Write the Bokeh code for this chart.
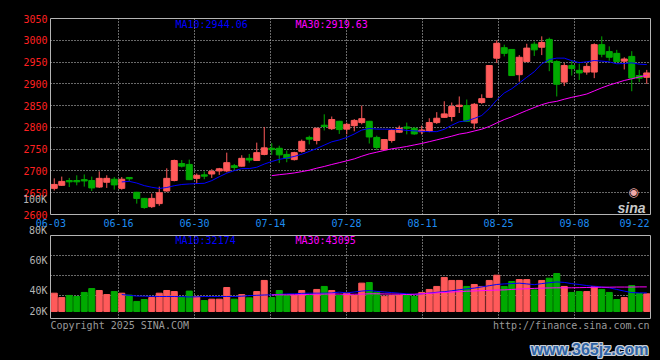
from bokeh.plotting import figure
from bokeh.layouts import column
from bokeh.models import ColumnDataSource, Range1d, FixedTicker, Label, Div
from bokeh.embed import file_html
from bokeh.resources import INLINE

# ---------------- data ----------------
opens = [2660, 2667, 2678, 2678, 2680, 2678, 2663, 2674, 2681, 2660,
         2685, 2651, 2637, 2618, 2625, 2654, 2678, 2717, 2715, 2683,
         2691, 2693, 2700, 2700, 2712, 2711, 2729, 2724, 2738, 2752,
         2752, 2738, 2726, 2745, 2777, 2770, 2805, 2797, 2814, 2796,
         2804, 2811, 2814, 2777, 2749, 2770, 2789, 2801, 2798, 2790,
         2791, 2811, 2823, 2825, 2848, 2850, 2810, 2857, 2869, 2959,
         2983, 2979, 2921, 2951, 2991, 2984, 3002, 2951, 2904, 2942,
         2931, 2927, 2927, 2990, 2974, 2970, 2952, 2963, 2919, 2915]
highs = [2683, 2687, 2684, 2690, 2692, 2687, 2699, 2690, 2686, 2686,
         2686, 2652, 2638, 2648, 2664, 2706, 2726, 2725, 2726, 2694,
         2699, 2704, 2707, 2742, 2716, 2736, 2739, 2765, 2801, 2764,
         2758, 2747, 2744, 2772, 2781, 2799, 2830, 2825, 2815, 2811,
         2819, 2850, 2815, 2781, 2773, 2796, 2804, 2811, 2801, 2804,
         2821, 2835, 2860, 2857, 2871, 2864, 2856, 2876, 2943, 3000,
         2990, 2980, 2966, 2992, 2997, 3009, 3006, 2954, 2948, 2954,
         2946, 2948, 2993, 3009, 2986, 2978, 2961, 2975, 2932, 2932]
lows = [2655, 2666, 2663, 2667, 2664, 2654, 2661, 2661, 2657, 2657,
        2677, 2625, 2613, 2615, 2620, 2652, 2676, 2708, 2679, 2670,
        2681, 2684, 2691, 2697, 2701, 2710, 2719, 2723, 2736, 2737,
        2718, 2720, 2724, 2742, 2761, 2761, 2793, 2794, 2785, 2784,
        2791, 2807, 2763, 2748, 2747, 2765, 2787, 2784, 2783, 2784,
        2789, 2808, 2822, 2814, 2833, 2813, 2796, 2854, 2868, 2948,
        2963, 2918, 2905, 2950, 2964, 2966, 2929, 2871, 2895, 2919,
        2909, 2921, 2913, 2961, 2953, 2950, 2933, 2883, 2904, 2900]
closes = [2669, 2676, 2675, 2675, 2677, 2661, 2683, 2683, 2668, 2681,
          2682, 2637, 2616, 2637, 2650, 2683, 2724, 2711, 2680, 2690,
          2688, 2699, 2705, 2719, 2708, 2729, 2725, 2742, 2753, 2749,
          2737, 2729, 2742, 2768, 2773, 2798, 2802, 2818, 2795, 2807,
          2816, 2820, 2778, 2754, 2772, 2793, 2798, 2798, 2785, 2794,
          2811, 2821, 2831, 2848, 2851, 2814, 2853, 2866, 2942, 2993,
          2970, 2919, 2961, 2982, 2978, 2995, 2950, 2899, 2942, 2935,
          2925, 2940, 2990, 2968, 2961, 2951, 2957, 2913, 2913, 2925]
# volume in thousands
volumes_k = [38.2, 35.3, 36.7, 36.0, 38.7, 41.3, 40.0, 37.3, 39.3, 38.2,
             36.9, 32.7, 34.0, 35.3, 38.2, 40.0, 39.3, 35.6, 39.6, 36.0,
             33.3, 34.2, 34.2, 42.0, 34.2, 37.3, 35.1, 39.3, 46.7, 35.3,
             40.0, 36.7, 36.7, 40.0, 36.7, 40.7, 42.7, 40.0, 36.7, 38.2,
             36.7, 44.9, 45.3, 38.9, 36.2, 36.7, 36.7, 37.3, 36.0, 38.7,
             40.7, 42.7, 48.7, 46.7, 46.7, 42.7, 44.0, 42.7, 46.7, 50.2,
             42.7, 46.0, 47.3, 47.3, 40.4, 46.7, 48.2, 51.3, 42.7, 38.7,
             39.3, 39.3, 42.7, 40.7, 38.7, 34.0, 35.3, 43.3, 38.0, 37.8]
# moving-average lines as drawn (MA10 from day 10, MA30 from day 30)
ma10 = [2674.8, 2676.1, 2672.2, 2666.3, 2662.5, 2659.8, 2662.0, 2666.1, 2668.9, 2670.1, 2671.0,
        2671.6, 2677.8, 2686.7, 2694.9, 2700.7, 2705.3, 2705.4, 2708.5, 2715.8, 2721.7,
        2726.6, 2729.6, 2733.3, 2738.3, 2744.8, 2751.6, 2759.3, 2766.9, 2771.1, 2776.9,
        2784.8, 2793.9, 2797.5, 2796.1, 2796.0, 2795.6, 2795.1, 2793.1, 2792.0, 2790.8,
        2790.3, 2790.3, 2795.6, 2805.0, 2812.9, 2815.0, 2820.5, 2827.4, 2843.1, 2863.0,
        2878.9, 2888.7, 2901.8, 2915.1, 2927.8, 2946.0, 2955.7, 2959.0, 2959.0, 2953.1,
        2948.6, 2950.6, 2953.5, 2952.2, 2950.4, 2946.0, 2946.7, 2948.1, 2945.2, 2944.2]
ma30 = [2689.2,
        2691.4, 2693.2, 2695.4, 2698.5, 2701.7, 2706.3, 2710.3, 2714.8, 2719.0, 2723.2,
        2727.7, 2733.8, 2739.2, 2743.1, 2747.1, 2750.8, 2753.3, 2756.2, 2759.7, 2763.1,
        2767.2, 2771.3, 2775.5, 2779.8, 2784.6, 2787.4, 2791.7, 2795.8, 2802.1, 2810.2,
        2818.0, 2824.3, 2831.6, 2838.8, 2845.6, 2852.2, 2857.1, 2859.8, 2864.7, 2869.0,
        2872.6, 2876.6, 2883.7, 2890.8, 2897.1, 2902.4, 2907.7, 2911.5, 2915.8, 2919.6]
vol_ma10_k = [37.3, 36.8, 36.3, 36.2, 36.1, 36.0, 36.0, 36.0, 35.9, 35.7, 35.8,
              36.0, 36.0, 36.0, 36.0, 36.0, 36.2, 36.6, 36.8, 37.0, 37.1,
              37.4, 37.7, 37.8, 38.1, 38.2, 38.2, 38.2, 38.4, 38.9, 38.4,
              39.0, 39.6, 40.0, 39.4, 39.0, 38.6, 38.2, 37.8, 37.4, 37.8,
              38.3, 38.8, 39.2, 39.8, 40.5, 41.1, 41.6, 42.4, 43.2, 44.0,
              44.4, 44.6, 44.9, 44.4, 43.9, 44.6, 45.2, 45.7, 45.4, 44.6,
              44.0, 43.3, 42.8, 42.3, 41.8, 40.7, 39.6, 38.6, 38.4, 38.4]
vol_ma30_k = [37.1,
              37.1, 37.1, 37.2, 37.3, 37.4, 37.5, 37.6, 37.7, 37.6, 37.4,
              37.5, 37.6, 37.8, 37.8, 37.7, 37.6, 37.5, 37.3, 37.5, 37.8,
              38.1, 38.4, 38.7, 39.0, 39.3, 39.5, 39.7, 39.9, 40.1, 40.3,
              40.4, 40.7, 41.0, 41.2, 41.4, 41.6, 41.7, 41.8, 41.8, 41.8,
              41.9, 42.0, 42.1, 42.2, 42.2, 42.3, 42.3, 42.3, 42.4, 42.4]
date_labels = ["06-03", "06-16", "06-30", "07-14", "07-28", "08-11", "08-25", "09-08", "09-22"]
price_ticks = [2600, 2650, 2700, 2750, 2800, 2850, 2900, 2950, 3000, 3050]
vol_tick_labels = {26: "20K", 40: "40K", 60: "60K"}
vol_upper_labels = ["100K", "80K"]
price_ma_text = ["MA10:2944.06", "MA30:2919.63"]
vol_ma_text = ["MA10:32174", "MA30:43095"]
copyright_text = "Copyright 2025 SINA.COM"
url_text = "http://finance.sina.com.cn"
watermark_text = "www.365jz.com"

# ---------------- styling ----------------
UP, DOWN = "#ff5a5a", "#00aa00"
GRID = "#d2d2d2"
BORDER = "#b4b4b4"
GREYTXT = "#b4b4b4"
MONO = "DejaVu Sans Mono"
grid_pos = [8.57, 18.7, 28.83, 38.97, 49.1, 59.23, 69.37]
date_pos = [-0.45] + grid_pos + [77.37]
vol_floor = 26

n = len(closes)
idx = list(range(n))
colors = [UP if c >= o else DOWN for o, c in zip(opens, closes)]
src = ColumnDataSource(dict(
    x=idx, o=opens, h=highs, l=lows, c=closes,
    top=[max(o, c) for o, c in zip(opens, closes)],
    bot=[min(o, c) for o, c in zip(opens, closes)],
    v=volumes_k, color=colors))

x_range = Range1d(-0.5, 79.5)


def style(p):
    p.background_fill_color = "black"
    p.border_fill_color = "black"
    p.outline_line_color = BORDER
    p.outline_line_width = 1
    for ax in p.axis:
        ax.axis_line_color = None
        ax.major_tick_line_color = None
        ax.minor_tick_line_color = None
        ax.major_tick_out = 0
        ax.major_tick_in = 0
        ax.minor_tick_out = 0
        ax.major_label_text_font = MONO
        ax.major_label_text_font_size = "10px"
    for g in (p.xgrid, p.ygrid):
        g.grid_line_color = GRID
        g.grid_line_dash = "1 2"
        g.grid_line_width = 1


def label(p, x, y, text, color, **kw):
    opts = dict(text_font=MONO, text_font_size="10px")
    opts.update(kw)
    p.add_layout(Label(x=x, y=y, x_units="screen", y_units="screen", text=text,
                       text_color=color, **opts))


# ---------------- price panel (page y 0..234, frame 18..214) ----------------
p1 = figure(width=660, height=234, x_range=x_range, y_range=Range1d(2600, 3050),
            output_backend="svg", toolbar_location=None,
            min_border_left=50, min_border_right=10, min_border_top=18, min_border_bottom=20)
style(p1)
p1.xaxis.ticker = FixedTicker(ticks=date_pos)
p1.xaxis.major_label_overrides = {pos: lab for pos, lab in zip(date_pos, date_labels)}
p1.xaxis.major_label_text_color = "#1e8cf0"
p1.xaxis.major_label_standoff = 4
p1.xgrid.ticker = FixedTicker(ticks=grid_pos)
p1.yaxis.ticker = FixedTicker(ticks=price_ticks)
p1.yaxis.major_label_text_color = "#ff2020"
p1.yaxis.major_label_standoff = 3
p1.ygrid.ticker = FixedTicker(ticks=price_ticks[1:-1])

p1.segment(x0="x", y0="l", x1="x", y1="h", line_color="color", line_width=1, source=src)
p1.vbar(x="x", width=0.8, top="top", bottom="bot", fill_color="color",
        line_color="color", line_width=1, source=src)
p1.line(x=idx[9:], y=ma10, line_color="#0000ff", line_width=1)
p1.line(x=idx[29:], y=ma30, line_color="#ff00ff", line_width=1)

label(p1, 125, 196, price_ma_text[0], "#0000ff", text_baseline="top")
label(p1, 245, 196, price_ma_text[1], "#ff00ff", text_baseline="top")
label(p1, 583, 23, "\u25c9", "#f0a8a8", text_font="DejaVu Sans", text_font_size="12px",
      text_align="center", text_baseline="middle")
label(p1, 567, 7, "sina", "#c8c8c8", text_font="Liberation Sans", text_font_size="14px",
      text_font_style="bold italic", text_baseline="alphabetic")

# stray volume-scale labels that sit left of the panels (overlay, zero height)
overlay = Div(
    text=('<span style="position:absolute;left:0px;width:47px;text-align:right;top:-40px;">%s</span>'
          '<span style="position:absolute;left:0px;width:47px;text-align:right;top:-9px;">%s</span>')
    % tuple(vol_upper_labels),
    width=660, height=0, margin=(0, 0, 0, 0),
    styles={"position": "relative", "overflow": "visible", "z-index": "10",
            "color": GREYTXT, "font-family": MONO, "font-size": "10px",
            "line-height": "12px", "white-space": "nowrap", "margin": "0px",
            "padding": "0px", "height": "0px"})

# ---------------- volume panel (page y 234..319, frame 235..318) ----------------
p2 = figure(width=660, height=85, x_range=x_range, y_range=Range1d(21.333, 76.667),
            output_backend="svg", toolbar_location=None,
            min_border_left=50, min_border_right=10, min_border_top=1, min_border_bottom=1)
style(p2)
p2.xaxis.visible = False
p2.xgrid.ticker = FixedTicker(ticks=grid_pos)
p2.yaxis.ticker = FixedTicker(ticks=list(vol_tick_labels.keys()))
p2.yaxis.major_label_overrides = vol_tick_labels
p2.yaxis.major_label_text_color = GREYTXT
p2.yaxis.major_label_standoff = 3
p2.ygrid.ticker = FixedTicker(ticks=[36.667, 50, 63.333])

p2.vbar(x="x", width=0.8, top="v", bottom=vol_floor, fill_color="color",
        line_color="color", line_width=1, source=src)
p2.line(x=idx[9:], y=vol_ma10_k, line_color="#0000ff", line_width=1)
p2.line(x=idx[29:], y=vol_ma30_k, line_color="#ff00ff", line_width=1)

label(p2, 125, 84, vol_ma_text[0], "#0000ff", text_baseline="top")
label(p2, 245, 84, vol_ma_text[1], "#ff00ff", text_baseline="top")

# ---------------- footer strip (page y 319..360; frame aligned to x 50..650) ----------------
p3 = figure(width=660, height=41, x_range=Range1d(0, 600), y_range=Range1d(0, 41),
            output_backend="svg", toolbar_location=None,
            min_border_left=50, min_border_right=10, min_border_top=0, min_border_bottom=0)
p3.axis.visible = False
p3.grid.visible = False
p3.outline_line_color = None
p3.background_fill_color = "black"
p3.border_fill_color = "black"
label(p3, 0, 41, copyright_text, "#9a9a9a", text_baseline="top")
label(p3, 599, 41, url_text, "#9a9a9a", text_align="right", text_baseline="top")
for dx, dy in [(-1, 0), (1, 0), (0, -1), (0, 1), (-1, -1), (1, 1), (-1, 1), (1, -1)]:
    label(p3, 598 + dx, 11 + dy, watermark_text, "#c9ced6", text_font="Liberation Sans",
          text_font_size="16px", text_font_style="bold", text_align="right",
          text_baseline="alphabetic")
label(p3, 598, 11, watermark_text, "#2f64a6", text_font="Liberation Sans",
      text_font_size="16px", text_font_style="bold", text_align="right",
      text_baseline="alphabetic")

layout = column(p1, overlay, p2, p3, spacing=0)
html = file_html(layout, INLINE)
html = html.replace("</head>", "<style>html,body{background:#000000;margin:0;overflow:hidden;}</style></head>", 1)
open("out.html", "w").write(html)
